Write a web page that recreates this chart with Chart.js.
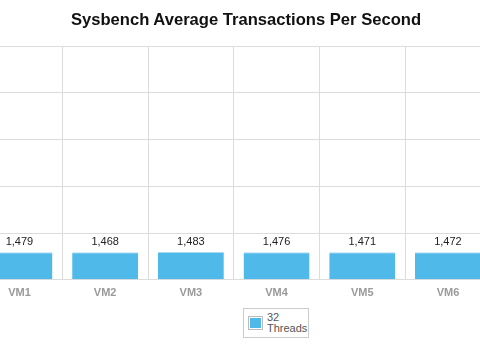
<!DOCTYPE html>
<html>
<head>
<meta charset="utf-8">
<script src="https://cdn.jsdelivr.net/npm/chart.js@4/dist/chart.umd.min.js"></script>
<style>
  html, body { margin: 0; padding: 0; background: #fff; overflow: hidden; }
  body { width: 480px; height: 344px; position: relative; font-family: "Liberation Sans", Arial, sans-serif; }
  #wrap { position: absolute; left: -40px; top: 0; width: 572px; height: 344px; }
  #title {
    position: absolute; left: 46px; width: 400px; top: 10px; text-align: center;
    font-size: 16.6px; line-height: 20px; font-weight: bold; color: #111; white-space: nowrap;
  }
  #legend {
    position: absolute; left: 243px; top: 308px; width: 66px; height: 30px;
    border: 1px solid #ccc; background: #fff; box-sizing: border-box;
  }
  #legend .swatch {
    position: absolute; left: 4px; top: 7px; width: 15px; height: 14px;
    border: 1px solid #bbb; box-sizing: border-box; padding: 1px; background: #fff;
  }
  #legend .swatch div { width: 100%; height: 100%; background: #4fb9ea; }
  #legend .txt {
    position: absolute; left: 23px; top: 3px; font-size: 11px; line-height: 11px; color: #555;
  }
</style>
</head>
<body>
<div id="wrap"><canvas id="chart" width="572" height="344"></canvas></div>
<div id="title">Sysbench Average Transactions Per Second</div>
<div id="legend"><div class="swatch"><div></div></div><div class="txt">32<br>Threads</div></div>
<script>
const categories = ['VM1', 'VM2', 'VM3', 'VM4', 'VM5', 'VM6'];
const threads32 = [1479, 1468, 1483, 1476, 1471, 1472];
const yMax = 12500;
const yStep = 2500;

// 막대 위에 값 표시
const valueLabels = {
  id: 'valueLabels',
  afterDatasetsDraw(chart) {
    const ctx = chart.ctx;
    ctx.save();
    ctx.font = '11px "Liberation Sans", Arial, sans-serif';
    ctx.fillStyle = '#222';
    ctx.textAlign = 'center';
    ctx.textBaseline = 'bottom';
    chart.getDatasetMeta(0).data.forEach((bar, i) => {
      ctx.fillText(threads32[i].toLocaleString('en-US'), bar.x, bar.y - 5);
    });
    ctx.restore();
  }
};

new Chart(document.getElementById('chart').getContext('2d'), {
  type: 'bar',
  data: {
    labels: categories,
    datasets: [{
      label: '32 Threads',
      data: threads32,
      backgroundColor: '#4fb9ea',
      borderColor: '#a8dcf4',
      borderWidth: { top: 1, left: 0, right: 0, bottom: 0 },
      categoryPercentage: 0.77,
      barPercentage: 1
    }]
  },
  options: {
    responsive: false,
    devicePixelRatio: 1,
    animation: false,
    layout: { padding: { left: 16.6, right: 41.2, top: 46, bottom: 37 } },
    plugins: {
      legend: { display: false },
      tooltip: { enabled: false },
      title: { display: false }
    },
    scales: {
      x: {
        grid: { color: '#dcdcdc', drawTicks: false, offset: true },
        border: { color: '#dcdcdc' },
        ticks: {
          color: '#9a9a9a',
          padding: 7,
          font: { family: '"Liberation Sans", Arial, sans-serif', size: 11, weight: 'bold' }
        }
      },
      y: {
        min: 0,
        max: yMax,
        grid: { color: '#dcdcdc', drawTicks: false },
        border: { display: false },
        ticks: { display: false, stepSize: yStep }
      }
    }
  },
  plugins: [valueLabels]
});
</script>
</body>
</html>
